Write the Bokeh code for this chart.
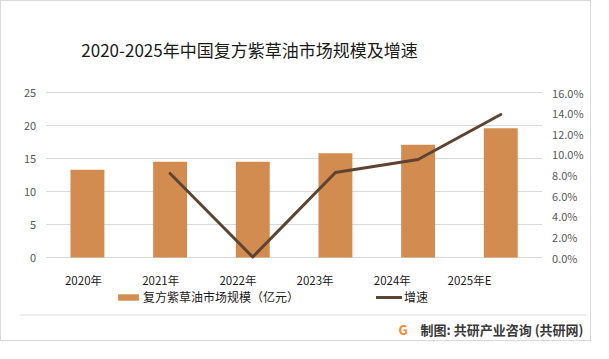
from bokeh.plotting import figure
from bokeh.models import Range1d, Legend, LegendItem, Label, ColumnDataSource
from bokeh.core.properties import value
from bokeh.embed import file_html
from bokeh.resources import INLINE

# ---- data ----
years = ["2020年", "2021年", "2022年", "2023年", "2024年", "2025年E"]
market_size = [13.3, 14.5, 14.5, 15.8, 17.1, 19.6]          # 亿元
growth_years = ["2021年", "2022年", "2023年", "2024年", "2025年E"]
growth_rate = [0.0815, 0.0005, 0.0824, 0.095, 0.1387]       # 增速
left_ticks = [0, 5, 10, 15, 20, 25]
right_ticks = [0.0, 0.02, 0.04, 0.06, 0.08, 0.10, 0.12, 0.14, 0.16]

title_text = "2020-2025年中国复方紫草油市场规模及增速"
bar_label = "复方紫草油市场规模（亿元）"
line_label = "增速"
footer_text = "制图: 共研产业咨询 (共研网)"

FONT = "Noto Sans CJK SC"
BAR_COLOR = "#D38C4F"
LINE_COLOR = "#5E4430"
GRID_COLOR = "#D9D9D9"

# ---- layout (pixels inside the figure) ----
W, H = 591, 341
FL, FR, FT, FB = 44.6, 540.6, 91.0, 256.0     # plotting area
n = len(years)
ppx = (FR - FL) / n                  # px per category
ppy = (FB - FT) / left_ticks[-1]     # px per 亿元
ppp = (FB - FT) / right_ticks[-1]    # px per growth unit
LAB0, LABSTEP = 82.0, 77.2           # category label placement in the reference

idx = {y: i for i, y in enumerate(years)}

def px_x(px):
    return -0.5 + (px - FL) / ppx

def px_y(px):
    return (FB - px) / ppy

p = figure(width=W, height=H, output_backend="svg", toolbar_location=None,
           x_range=Range1d(px_x(0), px_x(W)), y_range=Range1d(px_y(H), px_y(0)),
           x_axis_location=None, y_axis_location=None,
           min_border=0, min_border_left=0, min_border_right=0,
           min_border_top=0, min_border_bottom=0)
p.styles = {"border": "1px solid #D9D9D9"}
p.outline_line_color = None
p.xgrid.visible = False
p.ygrid.visible = False
p.background_fill_color = "white"
p.border_fill_color = "white"

p.extra_y_ranges = {"pct": Range1d(-(H - FB) / ppp, right_ticks[-1] + FT / ppp)}
p.extra_x_ranges = {"lab": Range1d(-LAB0 / LABSTEP, (W - LAB0) / LABSTEP)}

# gridlines (left-axis ticks) across the plotting area
p.segment(x0=[-0.5] * len(left_ticks), x1=[n - 0.5] * len(left_ticks),
          y0=left_ticks, y1=left_ticks, line_color=GRID_COLOR, line_width=1, level="underlay")

# bars and growth line
src = ColumnDataSource(dict(x=[idx[y] for y in years], y=market_size))
bars = p.vbar(x="x", top="y", width=0.41, source=src, color=BAR_COLOR, line_color=None)
lsrc = ColumnDataSource(dict(x=[idx[y] for y in growth_years], y=growth_rate))
line = p.line(x="x", y="y", source=lsrc, y_range_name="pct", line_color=LINE_COLOR,
              line_width=3, line_cap="round", line_join="round")

# left tick labels
p.text(x=[px_x(FL - 10)] * len(left_ticks), y=left_ticks, text=[str(t) for t in left_ticks],
       text_align="right", text_baseline="middle", text_font=value(FONT),
       text_font_size="11px", text_color="#595959")
# right tick labels
p.text(x=[px_x(FR + 10)] * len(right_ticks), y=right_ticks,
       text=[f"{t * 100:.1f}%" for t in right_ticks], y_range_name="pct",
       text_align="left", text_baseline="middle", text_font=value(FONT),
       text_font_size="11px", text_color="#595959")
# category labels
p.text(x=list(range(n)), y=[px_y(278)] * n, text=years, x_range_name="lab",
       text_align="center", text_baseline="middle", text_font=value(FONT),
       text_font_size="11.5px", text_color="#1A1A1A")

# title
p.add_layout(Label(x=248, y=H - 48, x_units="screen", y_units="screen", text=title_text,
                   text_align="center", text_baseline="middle", text_font=FONT,
                   text_font_size="17px", text_color="#1A1A1A"))

# legend
legend = Legend(items=[LegendItem(label=bar_label, renderers=[bars]),
                       LegendItem(label=line_label, renderers=[line])],
                orientation="horizontal", location=(114, H - 304.2),
                glyph_width=26, glyph_height=8, label_height=17,
                label_standoff=2, spacing=77,
                padding=0, margin=0, border_line_color=None, background_fill_alpha=0,
                label_text_font=FONT, label_text_font_size="12px", label_text_color="#1A1A1A")
p.add_layout(legend, "center")

# separator rule above the credit line
p.line(x=[px_x(18), px_x(585)], y=[px_y(313.5), px_y(313.5)],
       line_color="#DEDEDE", line_width=1.2)

# footer credit
p.add_layout(Label(x=397, y=H - 328, x_units="screen", y_units="screen", text="G",
                   text_font=FONT, text_font_size="13px", text_font_style="bold",
                   text_color="#F08A30", text_baseline="middle"))
p.add_layout(Label(x=419, y=H - 328, x_units="screen", y_units="screen", text=footer_text,
                   text_font=FONT, text_font_size="13px", text_font_style="bold",
                   text_color="#3A3A3A", text_baseline="middle"))

open("out.html", "w").write(file_html(p, INLINE))
